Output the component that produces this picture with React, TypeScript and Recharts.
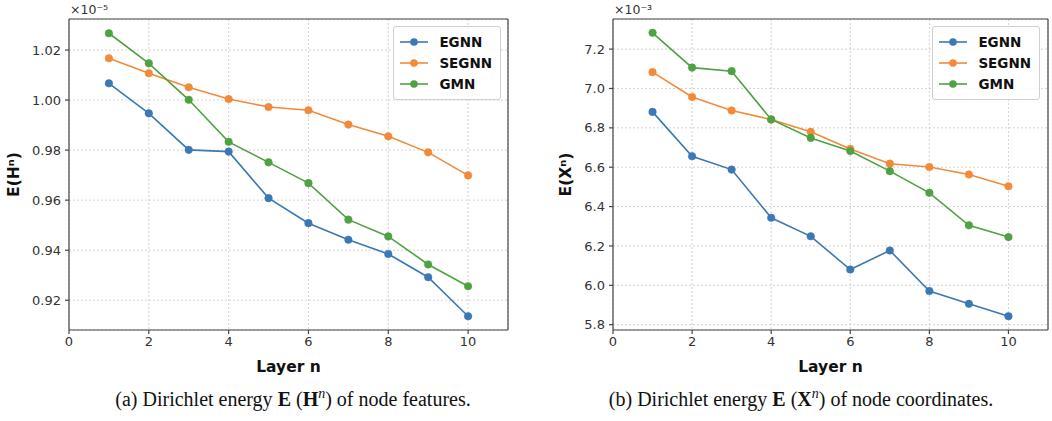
import {
  LineChart,
  Line,
  XAxis,
  YAxis,
  CartesianGrid,
  Legend,
  Label,
  ReferenceLine,
} from "recharts";

const layers = [1, 2, 3, 4, 5, 6, 7, 8, 9, 10];
const seriesNames = ["EGNN", "SEGNN", "GMN"];
const seriesColors = ["#3b78b4", "#f28a3a", "#4fa243"];

// node features, x1e-5
const featEgnn = [1.0067, 0.9947, 0.9801, 0.9794, 0.9608, 0.9508, 0.9442, 0.9385, 0.9292, 0.9136];
const featSegnn = [1.0167, 1.0107, 1.0051, 1.0004, 0.9972, 0.9959, 0.9902, 0.9855, 0.9791, 0.9699];
const featGmn = [1.0267, 1.0147, 1.0001, 0.9833, 0.9751, 0.9668, 0.9522, 0.9455, 0.9343, 0.9256];
const featTicks = [0.92, 0.94, 0.96, 0.98, 1.0, 1.02];

// node coordinates, x1e-3
const coordEgnn = [6.881, 6.656, 6.588, 6.343, 6.249, 6.080, 6.177, 5.971, 5.906, 5.843];
const coordSegnn = [7.083, 6.957, 6.888, 6.842, 6.780, 6.693, 6.618, 6.601, 6.563, 6.503];
const coordGmn = [7.283, 7.106, 7.088, 6.843, 6.749, 6.682, 6.580, 6.470, 6.305, 6.245];
const coordTicks = [5.8, 6.0, 6.2, 6.4, 6.6, 6.8, 7.0, 7.2];

const layerTicks = [0, 2, 4, 6, 8, 10];

const FONT = "'DejaVu Sans', sans-serif";

const buildRows = (a: number[], b: number[], c: number[]) =>
  layers.map((layer, i) => ({ layer, EGNN: a[i], SEGNN: b[i], GMN: c[i] }));

const LegendBox = () => (
  <div
    style={{
      background: "rgba(255,255,255,0.85)",
      border: "1px solid #d0d0d0",
      borderRadius: 3,
      padding: "4px 8px 4px 5px",
      fontFamily: FONT,
      fontWeight: "bold",
      fontSize: 13.5,
      color: "#111",
    }}>
    {seriesNames.map((name, i) => (
      <div
        key={name}
        style={{ display: "flex", alignItems: "center", height: 21.3 }}>
        <svg width={30} height={10} style={{ marginRight: 10 }}>
          <line x1={1} y1={5} x2={29} y2={5} stroke={seriesColors[i]} strokeWidth={1.6} />
          <circle cx={15} cy={5} r={3.8} fill={seriesColors[i]} />
        </svg>
        <span>{name}</span>
      </div>
    ))}
  </div>
);

type PanelProps = {
  rows: { layer: number; EGNN: number; SEGNN: number; GMN: number }[];
  yDomain: [number, number];
  yTicks: number[];
  digits: number;
  yLabel: string;
  exponent: string;
  width: number;
  yAxisWidth: number;
  marginRight: number;
  labelOffset: number;
  legendRight: number;
};

const Panel = ({
  rows,
  yDomain,
  yTicks,
  digits,
  yLabel,
  exponent,
  width,
  yAxisWidth,
  marginRight,
  labelOffset,
  legendRight,
}: PanelProps) => (
  <LineChart
    width={width}
    height={380}
    data={rows}
    margin={{ top: 19, right: marginRight, left: 0, bottom: 0 }}>
    <CartesianGrid stroke="#c8c8c8" strokeDasharray="2 2" strokeWidth={0.8} />
    <XAxis
      dataKey="layer"
      type="number"
      domain={[0, 11]}
      ticks={layerTicks}
      height={50}
      stroke="#444"
      strokeWidth={1.2}
      tickSize={4}
      tickMargin={3}
      tick={{ fill: "#333", fontSize: 13, fontFamily: FONT }}>
      <Label
        value="Layer n"
        position="insideBottom"
        offset={8}
        style={{ fontFamily: FONT, fontWeight: "bold", fontSize: 15.5, fill: "#111" }}
      />
    </XAxis>
    <YAxis
      type="number"
      domain={yDomain}
      ticks={yTicks}
      width={yAxisWidth}
      allowDataOverflow
      stroke="#444"
      strokeWidth={1.2}
      tickSize={4}
      tickMargin={4}
      tickFormatter={(v: number) => v.toFixed(digits)}
      tick={{ fill: "#333", fontSize: 13, fontFamily: FONT }}>
      <Label
        value={yLabel}
        angle={-90}
        position="insideLeft"
        offset={labelOffset}
        style={{ textAnchor: "middle", fontFamily: FONT, fontWeight: "bold", fontSize: 15.5, fill: "#111" }}
      />
      <Label
        content={(props: any) => {
          const vb = props.viewBox;
          return (
            <text
              x={vb.x + vb.width + 1}
              y={vb.y - 5}
              fontFamily={FONT}
              fontSize={12.5}
              fill="#333">
              {exponent}
            </text>
          );
        }}
      />
    </YAxis>
    <ReferenceLine y={yDomain[1]} stroke="#444" strokeWidth={1.2} ifOverflow="visible" />
    <ReferenceLine x={11} stroke="#444" strokeWidth={1.2} ifOverflow="visible" />
    {seriesNames.map((name, i) => (
      <Line
        key={name}
        dataKey={name}
        stroke={seriesColors[i]}
        strokeWidth={1.6}
        dot={{ r: 3.8, fill: seriesColors[i], stroke: seriesColors[i], strokeWidth: 0.5 }}
        isAnimationActive={false}
      />
    ))}
    <Legend
      verticalAlign="middle"
      align="center"
      layout="vertical"
      wrapperStyle={{ top: 26, right: legendRight, left: "auto", width: "auto" }}
      content={() => <LegendBox />}
    />
  </LineChart>
);

const captionStyle = {
  position: "absolute" as const,
  top: 386,
  fontFamily: "'Liberation Serif', serif",
  fontSize: 20,
  color: "#111",
  whiteSpace: "nowrap" as const,
  transform: "translateX(-50%)",
};

export default function App() {
  return (
    <div
      style={{
        position: "fixed",
        left: 0,
        top: 0,
        width: 1052,
        height: 421,
        background: "#fff",
        overflow: "hidden",
      }}>
      <div style={{ position: "absolute", left: 0, top: 0 }}>
        <Panel
          rows={buildRows(featEgnn, featSegnn, featGmn)}
          yDomain={[0.9081, 1.0324]}
          yTicks={featTicks}
          digits={2}
          yLabel="E(Hⁿ)"
          exponent="×10⁻⁵"
          width={520}
          yAxisWidth={69}
          marginRight={12}
          labelOffset={13}
          legendRight={19}
        />
      </div>
      <div style={{ position: "absolute", left: 526, top: 0 }}>
        <Panel
          rows={buildRows(coordEgnn, coordSegnn, coordGmn)}
          yDomain={[5.773, 7.353]}
          yTicks={coordTicks}
          digits={1}
          yLabel="E(Xⁿ)"
          exponent="×10⁻³"
          width={526}
          yAxisWidth={87}
          marginRight={4}
          labelOffset={39}
          legendRight={12}
        />
      </div>
      <div style={{ ...captionStyle, left: 293 }}>
        (a) Dirichlet energy <b>E</b>&nbsp;(<b>H</b>
        <sup style={{ fontStyle: "italic", fontSize: 14 }}>n</sup>) of node features.
      </div>
      <div style={{ ...captionStyle, left: 801 }}>
        (b) Dirichlet energy <b>E</b>&nbsp;(<b>X</b>
        <sup style={{ fontStyle: "italic", fontSize: 14 }}>n</sup>) of node coordinates.
      </div>
    </div>
  );
}
